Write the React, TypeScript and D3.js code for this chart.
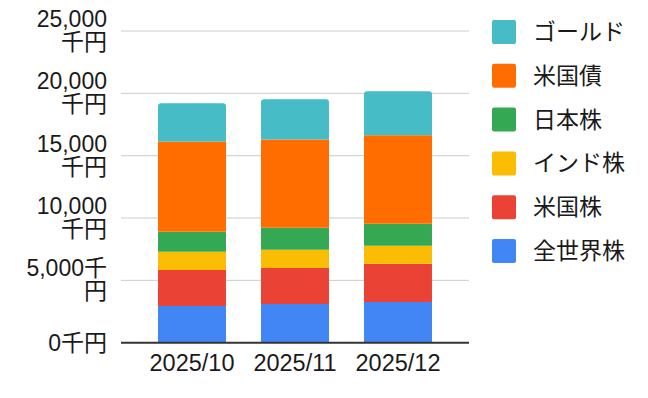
import React, { useEffect, useRef } from "react";
import * as d3 from "d3";

const months = ["2025/10", "2025/11", "2025/12"];
const seriesNames = ["全世界株", "米国株", "インド株", "日本株", "米国債", "ゴールド"];
const zenSekai = [2950, 3110, 3270];
const beikokuKabu = [2890, 2890, 3060];
const indoKabu = [1450, 1450, 1450];
const nihonKabu = [1610, 1770, 1770];
const beikokuSai = [7240, 7080, 7080];
const gold = [3060, 3220, 3540];
const colors = ["#4285F4", "#EA4335", "#FBBC04", "#34A853", "#FF6D01", "#46BDC6"];
const yTicks = [0, 5000, 10000, 15000, 20000, 25000];
// labels wrap like the original
const yTickLabels = [["0千円"], ["5,000千", "円"], ["10,000", "千円"], ["15,000", "千円"], ["20,000", "千円"], ["25,000", "千円"]];

const W = 648;
const H = 398;
const font = "'Liberation Sans', Arial, 'Noto Sans CJK JP', sans-serif";

export default function App() {
  const ref = useRef<SVGSVGElement>(null);

  useEffect(() => {
    const svg = d3.select(ref.current);
    svg.selectAll("*").remove();

    const values = [zenSekai, beikokuKabu, indoKabu, nihonKabu, beikokuSai, gold];
    const rows = months.map((m, i) => {
      const r: any = { month: m };
      seriesNames.forEach((s, j) => (r[s] = values[j][i]));
      return r;
    });
    const stacked = d3.stack().keys(seriesNames)(rows);

    const x = d3.scaleBand().domain(months).range([140.5, 449.5]).paddingInner(0.34).paddingOuter(0.17);
    const y = d3.scaleLinear().domain([0, 25000]).range([342.7, 31]);

    // grid
    svg.append("g")
      .selectAll("line")
      .data(yTicks.filter((t) => t > 0))
      .join("line")
      .attr("x1", 121)
      .attr("x2", 469)
      .attr("y1", (d) => y(d))
      .attr("y2", (d) => y(d))
      .attr("stroke", "#cccccc")
      .attr("stroke-width", 1);

    // y labels
    const yl = svg.append("g")
      .attr("font-family", font)
      .attr("font-size", 23)
      .attr("fill", "#1a1a1a")
      .attr("text-anchor", "end");
    yTicks.forEach((t, i) => {
      const lines = yTickLabels[i];
      const txt = yl.append("text").attr("x", 107);
      const first = lines.length === 1 ? y(t) + 8 : y(t) - 4;
      lines.forEach((l, k) => {
        txt.append("tspan").attr("x", 107).attr("y", first + k * 23).text(l);
      });
    });

    // bars
    const r = 3;
    stacked.forEach((layer, li) => {
      const top = li === stacked.length - 1;
      svg.append("g")
        .selectAll("path")
        .data(layer)
        .join("path")
        .attr("fill", colors[li])
        .attr("d", (d: any) => {
          const x0 = x(d.data.month)!;
          const x1 = x0 + x.bandwidth();
          const y0 = y(d[0]);
          const y1 = y(d[1]);
          if (!top) return `M${x0},${y0}V${y1}H${x1}V${y0}Z`;
          return `M${x0},${y0}V${y1 + r}Q${x0},${y1} ${x0 + r},${y1}H${x1 - r}Q${x1},${y1} ${x1},${y1 + r}V${y0}Z`;
        });
    });

    // baseline
    svg.append("line")
      .attr("x1", 121)
      .attr("x2", 469)
      .attr("y1", y(0))
      .attr("y2", y(0))
      .attr("stroke", "#333")
      .attr("stroke-width", 2);

    // x labels
    svg.append("g")
      .selectAll("text")
      .data(months)
      .join("text")
      .attr("x", (d) => x(d)! + x.bandwidth() / 2)
      .attr("y", 371)
      .attr("text-anchor", "middle")
      .attr("font-family", font)
      .attr("font-size", 23.5)
      .attr("fill", "#1a1a1a")
      .text((d) => d);

    // legend, top to bottom
    const legendOrder = seriesNames.map((s, i) => ({ s, c: colors[i] })).reverse();
    const lg = svg.append("g")
      .selectAll("g")
      .data(legendOrder)
      .join("g")
      .attr("transform", (d, i) => `translate(492,${32 + i * 43.8})`);
    lg.append("rect")
      .attr("x", 0)
      .attr("y", -12)
      .attr("width", 24)
      .attr("height", 24)
      .attr("rx", 2)
      .attr("fill", (d) => d.c);
    lg.append("text")
      .attr("x", 41)
      .attr("y", 8)
      .attr("font-family", "'Noto Sans CJK JP', sans-serif")
      .attr("font-size", 23)
      .attr("fill", "#1a1a1a")
      .text((d) => d.s);
  }, []);

  return (
    <svg
      ref={ref}
      width={W}
      height={H}
      style={{ position: "absolute", left: 0, top: 0, background: "#fff" }}
    />
  );
}
